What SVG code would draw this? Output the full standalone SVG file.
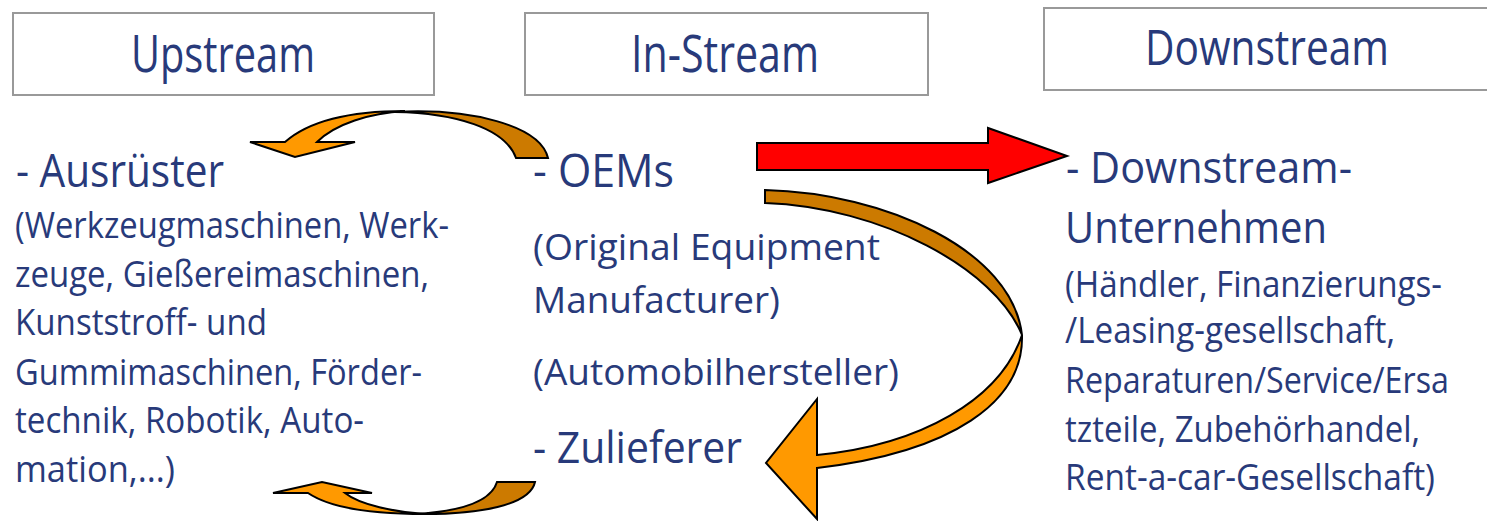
<svg xmlns="http://www.w3.org/2000/svg" width="1487" height="521" viewBox="0 0 1487 521">
<style>
.box{fill:#ffffff;stroke:#999999;stroke-width:2}
.t{font-family:"Open Sans","Noto Sans","DejaVu Sans",sans-serif;fill:#283A7A}
.h{font-size:51px}
.m{font-size:46px}
.s{font-size:44px}
.b{font-size:37px}
.r{font-size:36px}
.lt{fill:#FF9900;stroke:#000;stroke-width:2;stroke-linejoin:miter}
.dk{fill:#CC7A00;stroke:#000;stroke-width:2}
.red{fill:#FF0000;stroke:#000;stroke-width:2}
</style>
<rect width="1487" height="521" fill="#ffffff"/>
<g id="upstream">
<rect class="box" x="13" y="13" width="421" height="82"/>
<text class="t h" x="131" y="72" textLength="184" lengthAdjust="spacingAndGlyphs" style="font-size:52px">Upstream</text>
<text class="t m" x="16" y="187" textLength="208" lengthAdjust="spacingAndGlyphs">- Ausrüster</text>
<text class="t b" x="15" y="238" textLength="434" lengthAdjust="spacingAndGlyphs">(Werkzeugmaschinen, Werk-</text>
<text class="t b" x="15" y="287" textLength="414" lengthAdjust="spacingAndGlyphs">zeuge, Gießereimaschinen,</text>
<text class="t b" x="15" y="335" textLength="252" lengthAdjust="spacingAndGlyphs">Kunststroff- und</text>
<text class="t b" x="15" y="385" textLength="407" lengthAdjust="spacingAndGlyphs">Gummimaschinen, Förder-</text>
<text class="t b" x="15" y="433" textLength="349" lengthAdjust="spacingAndGlyphs">technik, Robotik, Auto-</text>
<text class="t b" x="15" y="482" textLength="160" lengthAdjust="spacingAndGlyphs">mation,...)</text>
</g>
<g id="instream">
<rect class="box" x="525" y="13" width="403" height="82"/>
<text class="t h" x="631" y="72" textLength="188" lengthAdjust="spacingAndGlyphs">In-Stream</text>
<text class="t m" x="533" y="187" textLength="141" lengthAdjust="spacingAndGlyphs">- OEMs</text>
<text class="t b" x="533" y="260" textLength="347" lengthAdjust="spacingAndGlyphs">(Original Equipment</text>
<text class="t b" x="533" y="313" textLength="247" lengthAdjust="spacingAndGlyphs">Manufacturer)</text>
<text class="t b" x="533" y="385" textLength="366" lengthAdjust="spacingAndGlyphs">(Automobilhersteller)</text>
<text class="t s" x="533" y="463" textLength="209" lengthAdjust="spacingAndGlyphs">- Zulieferer</text>
</g>
<g id="downstream">
<rect class="box" x="1044" y="8" width="460" height="82"/>
<text class="t h" x="1145" y="65" textLength="244" lengthAdjust="spacingAndGlyphs" style="font-size:49px">Downstream</text>
<text class="t s" x="1066" y="183" textLength="286" lengthAdjust="spacingAndGlyphs">- Downstream-</text>
<text class="t s" x="1065" y="243" textLength="262" lengthAdjust="spacingAndGlyphs">Unternehmen</text>
<text class="t r" x="1065" y="297" textLength="377" lengthAdjust="spacingAndGlyphs">(Händler, Finanzierungs-</text>
<text class="t r" x="1065" y="343" textLength="330" lengthAdjust="spacingAndGlyphs">/Leasing-gesellschaft,</text>
<text class="t r" x="1065" y="393" textLength="384" lengthAdjust="spacingAndGlyphs">Reparaturen/Service/Ersa</text>
<text class="t r" x="1065" y="442" textLength="355" lengthAdjust="spacingAndGlyphs">tzteile, Zubehörhandel,</text>
<text class="t r" x="1065" y="490" textLength="370" lengthAdjust="spacingAndGlyphs">Rent-a-car-Gesellschaft)</text>
</g>
<g id="connectors">
<path class="red" d="M757,143 L988,143 L988,128 L1067,156 L988,183 L988,170 L757,170 Z"/>
<path class="dk" d="M548,158 L516,158 C505,128 455,113 395,112 C470,108 540,125 548,158 Z"/>
<path class="lt" d="M285,142 C310,120 350,111 405,111 C370,113 335,124 317,142 L355,142 L295,157 L250,142 Z"/>
<path class="dk" d="M497,482 L535,482 C530,505 480,515 415,514 C450,512 490,505 497,482 Z"/>
<path class="lt" d="M308,493 C330,508 370,514 425,514 C395,512 360,505 345,493 L372,493 L322,482 L273,493 Z"/>
<path class="dk" d="M765,190 C885,193 1012,250 1022,335 C995,268 880,207 765,203 Z"/>
<path class="lt" d="M1022,335 C1024,402 952,452 817,468 L817,519 L766,463 L817,399 L817,455 C920,445 1000,400 1022,335 Z"/>
</g>
</svg>
